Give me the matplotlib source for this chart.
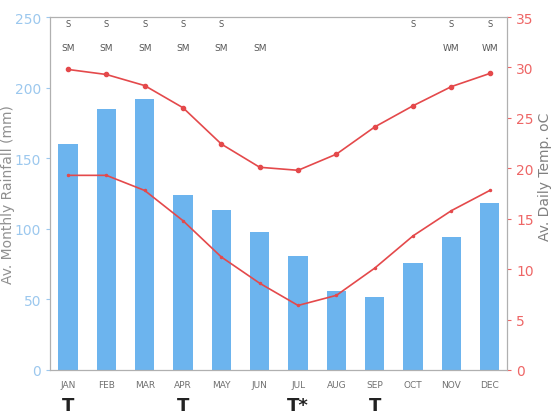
import matplotlib
matplotlib.use("Agg")
import matplotlib.pyplot as plt
import numpy as np

months = ["JAN", "FEB", "MAR", "APR", "MAY", "JUN",
          "JUL", "AUG", "SEP", "OCT", "NOV", "DEC"]

# average monthly rainfall (mm)
rainfall = [160, 185, 192, 124, 113, 98, 81, 56, 52, 76, 94, 118]

# average daily max / min temperature (oC)
temp_max = [29.8, 29.3, 28.2, 26.0, 22.4, 20.1, 19.8, 21.4, 24.1, 26.2, 28.1, 29.4]
temp_min = [19.3, 19.3, 17.8, 14.8, 11.2, 8.6, 6.4, 7.4, 10.1, 13.3, 15.8, 17.8]

# flags shown above and below the plot
row_s = ["S", "S", "S", "S", "S", "", "", "", "", "S", "S", "S"]
row_m = ["SM", "SM", "SM", "SM", "SM", "SM", "", "", "", "", "WM", "WM"]
row_t = ["T", "", "", "T", "", "", "T*", "", "T", "", "", ""]

bar_col = "#6cb4ee"
line_col = "#e4494b"
spine_col = "#b0b0b0"

fig, ax = plt.subplots(figsize=(5.58, 4.14), dpi=100)
fig.subplots_adjust(left=0.0896, right=0.9086, bottom=0.1039, top=0.9565)

x = np.arange(len(months))
ax.bar(x, rainfall, width=0.5, color=bar_col, zorder=2)
ax.set_xlim(-0.47, 11.45)
ax.set_ylim(0, 250)
ax.set_yticks([0, 50, 100, 150, 200, 250])
ax.tick_params(axis="y", colors="#9cc8ee", labelsize=10, length=3, width=0.8)
ax.tick_params(axis="x", length=0, pad=7, labelsize=6.5, labelcolor="#707070")
ax.set_xticks(x)
ax.set_xticklabels(months)
ax.set_ylabel("Av. Monthly Rainfall (mm)", color="#909090", fontsize=10)
ax.yaxis.set_label_coords(-0.076, 0.5)
for s in ax.spines.values():
    s.set_color(spine_col)
    s.set_linewidth(0.8)

ax2 = ax.twinx()
ax2.plot(x, temp_max, color=line_col, lw=1.2, marker="o", ms=3, zorder=3)
ax2.plot(x, temp_min, color=line_col, lw=1.2, marker="o", ms=1.5, zorder=3)
ax2.set_ylim(0, 35)
ax2.set_yticks(range(0, 36, 5))
ax2.tick_params(axis="y", colors="#ee6666", labelsize=10, length=3, width=0.8)
ax2.set_ylabel("Av. Daily Temp. oC", color="#808080", fontsize=10)
ax2.yaxis.set_label_coords(1.068, 0.55)
for s in ax2.spines.values():
    s.set_color(spine_col)
    s.set_linewidth(0.8)

trans = ax.get_xaxis_transform()
for i in x:
    if row_s[i]:
        ax.text(i, 0.983, row_s[i], transform=trans, ha="center", va="center",
                fontsize=6, color="#555555")
    if row_m[i]:
        ax.text(i, 0.915, row_m[i], transform=trans, ha="center", va="center",
                fontsize=6.5, color="#555555")
    if row_t[i]:
        ax.text(i, -0.098, row_t[i], transform=trans, ha="center", va="center",
                fontsize=13, fontweight="bold", color="#222222")

fig.savefig("out.png", dpi=100)
